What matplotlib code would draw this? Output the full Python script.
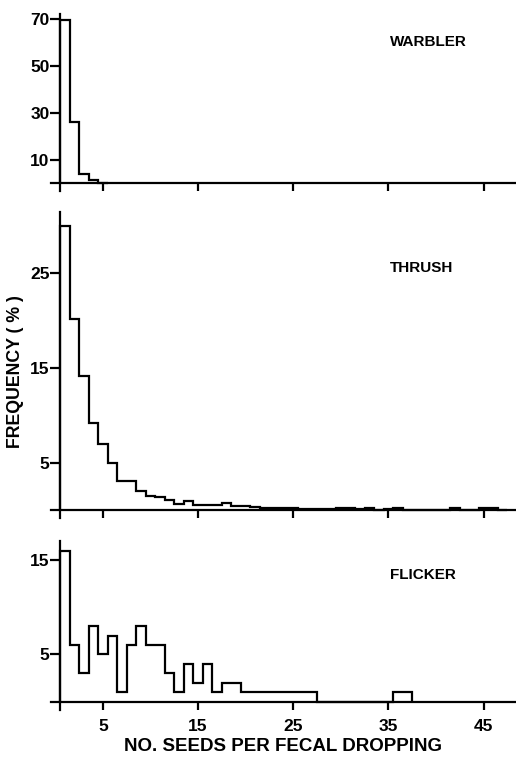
import matplotlib
matplotlib.use("Agg")
import matplotlib.pyplot as plt
import numpy as np

plt.rcParams['font.family'] = ['Liberation Sans', 'DejaVu Sans']

# percentages per number of seeds (bins centred on 1, 2, 3, ...)
warbler = [69.5, 26, 4, 1.5, 0.3]
thrush = [30, 20.2, 14.2, 9.2, 7.0, 5.0, 3.1, 3.1, 2.0, 1.5, 1.4, 1.05,
          0.6, 0.9, 0.55, 0.55, 0.55, 0.7, 0.45, 0.4, 0.3, 0.25, 0.25, 0.2,
          0.2, 0.15, 0.15, 0.1, 0.1, 0.25, 0.25, 0.1, 0.2, 0.05, 0.1, 0.2,
          0.05, 0.05, 0.05, 0.05, 0.05, 0.2, 0.05, 0.05, 0.25, 0.25, 0.05]
flicker = [16, 6, 3, 8, 5, 7, 1, 6, 8, 6, 6, 3, 1, 4, 2, 4, 1, 2, 2,
           1, 1, 1, 1, 1, 1, 1, 1, 0, 0, 0, 0, 0, 0, 0, 0, 1, 1]

names = ['WARBLER', 'THRUSH', 'FLICKER']
series = [warbler, thrush, flicker]
yticks = [[10, 30, 50, 70], [5, 15, 25], [5, 15]]
ylims = [(-3.2, 72.2), (-0.85, 31.5), (-0.9, 17.07)]
xticks = [5, 15, 25, 35, 45]

fig = plt.figure(figsize=(5.16, 7.59), dpi=100)
# axes boxes in figure fraction (left, bottom, width, height)
boxes = [(0.0979, 0.7484, 0.9021, 0.2332),
         (0.0979, 0.3175, 0.9021, 0.4032),
         (0.0979, 0.0646, 0.9021, 0.2226)]
# vertical position of the bird name, in axes fraction
name_y = [1 - 28 / 177, 1 - 56 / 306, 1 - 34 / 169]

for i in range(3):
    ax = fig.add_axes(boxes[i])
    vals = np.array(series[i])
    edges = np.arange(len(vals) + 1) + 0.5
    ax.stairs(vals, edges, baseline=0, color='black', lw=1.6)
    ax.set_xlim(-0.5, 48.4)
    ax.set_ylim(*ylims[i])
    for s in ['top', 'right']:
        ax.spines[s].set_visible(False)
    ax.spines['left'].set_position(('data', 0.5))
    ax.spines['bottom'].set_position(('data', 0))
    ax.spines['left'].set_linewidth(1.6)
    ax.spines['bottom'].set_linewidth(1.6)
    ax.set_yticks(yticks[i])
    ax.set_xticks(xticks)
    ax.tick_params(axis='y', direction='out', length=7, width=1.6,
                   labelsize=12.5, pad=0.5)
    ax.tick_params(axis='x', direction='out', length=6, width=1.6,
                   labelsize=12.5, pad=6.5)
    for t in ax.get_yticklabels():
        t.set_fontweight('bold')
    if i < 2:
        ax.set_xticklabels([])
    else:
        for t in ax.get_xticklabels():
            t.set_fontweight('bold')
        ax.set_xlabel('NO. SEEDS PER FECAL DROPPING', fontsize=13.5,
                      fontweight='bold', labelpad=3)
    ax.text(0.729, name_y[i], names[i], transform=ax.transAxes, fontsize=11,
            fontweight='bold', va='center', ha='left')

fig.text(0.03, 0.51, 'FREQUENCY ( % )', rotation=90, fontsize=12.8,
         fontweight='bold', va='center', ha='center')

fig.savefig('out.png', dpi=100)
